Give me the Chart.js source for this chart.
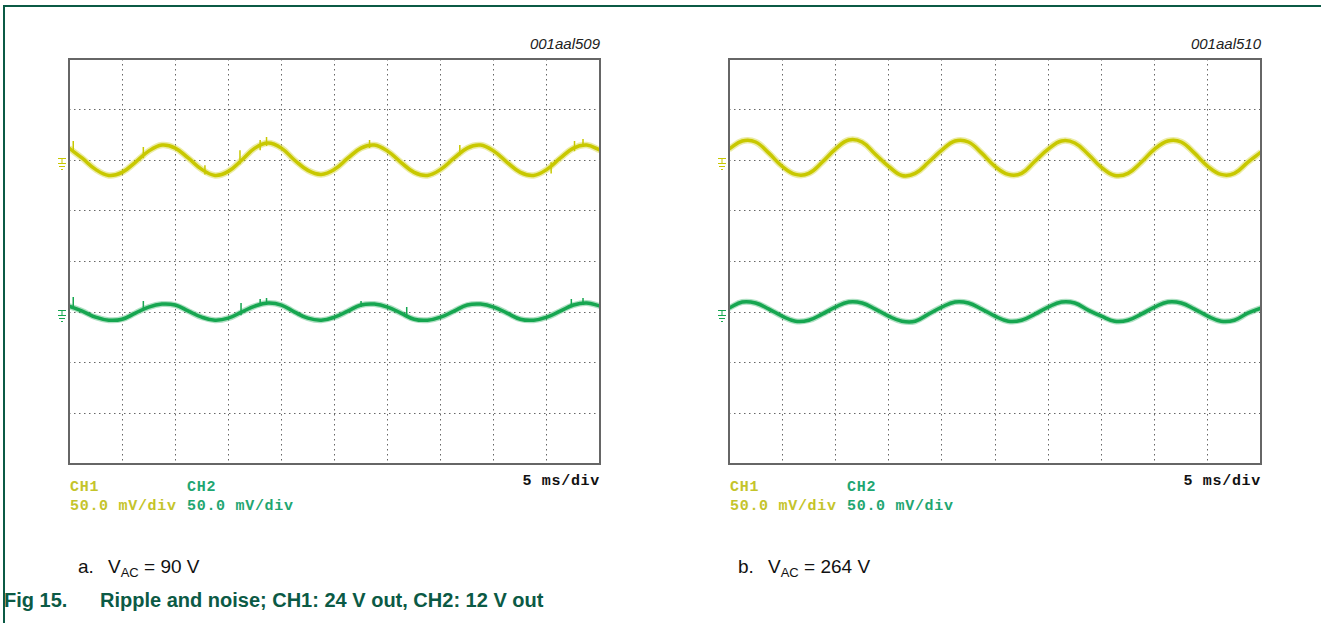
<!DOCTYPE html>
<html>
<head>
<meta charset="utf-8">
<script src="https://cdn.jsdelivr.net/npm/chart.js@4.4.1/dist/chart.umd.min.js"></script>
<style>
    body { margin: 0; background: #fff; width: 1325px; height: 623px; position: relative; overflow: hidden; font-family: Arial, "Liberation Sans", sans-serif; }
    #page-frame { position: absolute; left: 3px; top: 5px; width: 1316px; height: 700px; border-left: 2px solid #0b5a45; border-top: 2px solid #0b5a45; }
    canvas { position: absolute; }
    .code { position: absolute; width: 200px; text-align: right; font: italic 15px Arial, "Liberation Sans", sans-serif; color: #222; line-height: 15px; }
    .scope { position: absolute; font: bold 15px "Liberation Mono", "DejaVu Sans Mono", monospace; letter-spacing: 0.7px; line-height: 15px; white-space: pre; }
    .ch1 { color: #c4c42a; }
    .ch2 { color: #1fa672; }
    .sub-cap { position: absolute; font: 19px Arial, "Liberation Sans", sans-serif; color: #111; line-height: 19px; white-space: pre; }
    .sub-cap sub { font-size: 13px; vertical-align: -4px; line-height: 0; }
    .fig-cap { position: absolute; font: bold 20px Arial, "Liberation Sans", sans-serif; color: #0b5a45; line-height: 20px; white-space: pre; }
</style>
</head>
<body>
<div id="page-frame"></div>

<div class="code" style="left:400px; top:36px;">001aal509</div>
<div class="code" style="left:1061px; top:36px;">001aal510</div>

<canvas id="scopeA" width="568" height="420" style="left:40px; top:52px;"></canvas>
<canvas id="scopeB" width="569" height="420" style="left:700px; top:52px;"></canvas>

<div class="scope" style="left:480px; top:474px; width:120px; text-align:right; color:#111;">5 ms/div</div>
<div class="scope" style="left:1141px; top:474px; width:120px; text-align:right; color:#111;">5 ms/div</div>

<div class="scope ch1" style="left:70px; top:480px;">CH1</div>
<div class="scope ch2" style="left:187px; top:480px;">CH2</div>
<div class="scope ch1" style="left:70px; top:499px;">50.0 mV/div</div>
<div class="scope ch2" style="left:187px; top:499px;">50.0 mV/div</div>

<div class="scope ch1" style="left:730px; top:480px;">CH1</div>
<div class="scope ch2" style="left:847px; top:480px;">CH2</div>
<div class="scope ch1" style="left:730px; top:499px;">50.0 mV/div</div>
<div class="scope ch2" style="left:847px; top:499px;">50.0 mV/div</div>

<div class="sub-cap" style="left:78px; top:557px;">a.</div>
<div class="sub-cap" style="left:108px; top:557px;">V<sub>AC</sub> = 90 V</div>
<div class="sub-cap" style="left:738px; top:557px;">b.</div>
<div class="sub-cap" style="left:768px; top:557px;">V<sub>AC</sub> = 264 V</div>

<div class="fig-cap" style="left:4px; top:590px;">Fig 15.</div>
<div class="fig-cap" style="left:100px; top:590px;">Ripple and noise; CH1: 24 V out, CH2: 12 V out</div>

<script>
// time base: 10 div x 5 ms/div
const timeMs = [0, 1.25, 2.5, 3.75, 5, 6.25, 7.5, 8.75, 10, 11.25, 12.5, 13.75, 15, 16.25, 17.5, 18.75,
    20, 21.25, 22.5, 23.75, 25, 26.25, 27.5, 28.75, 30, 31.25, 32.5, 33.75, 35, 36.25, 37.5, 38.75,
    40, 41.25, 42.5, 43.75, 45, 46.25, 47.5, 48.75, 50];

// ripple, mV relative to each channel's ground marker
const ch1At90V = [12, 2, -9, -15, -12, -2, 9, 15, 12, 2, -9, -15, -11, 0, 12, 17,
    12, 0, -10, -14, -9, 2, 12, 15, 9, -2, -12, -15, -9, 2, 12, 15,
    9, -2, -12, -15, -9, 2, 12, 15, 10];
const ch2At90V = [6, 1, -5, -8, -7, -1, 5, 8, 7, 1, -5, -8, -6, 0, 6, 9,
    7, 0, -6, -8, -5, 1, 7, 8, 5, -1, -7, -8, -5, 1, 7, 8,
    5, -1, -7, -8, -5, 1, 7, 9, 6];
const ch1At264V = [11, 19, 18, 7, -6, -14, -13, -2, 11, 20, 18, 6, -6, -15, -13, -2,
    10, 19, 18, 7, -6, -14, -13, -1, 11, 19, 17, 6, -7, -15, -13, -2,
    11, 19, 18, 7, -6, -14, -13, -2, 8];
const ch2At264V = [4, 10, 9, 3, -4, -9, -8, -2, 5, 10, 9, 3, -4, -9, -9, -2,
    5, 10, 9, 3, -4, -9, -8, -2, 5, 10, 9, 2, -4, -9, -8, -2,
    5, 10, 9, 3, -4, -9, -8, -1, 4];

// noise spikes at 90 V: [time ms, from mV, to mV]
const ch1Spikes90V = [[0.4, 10, 19], [7.0, 2, 13], [12.8, -14, -5], [16.1, -4, 10], [18.0, 10, 20], [18.6, 14, 23],
    [28.3, 12, 20], [36.8, 5, 15], [45.4, -13, -2], [47.6, 9, 19], [48.4, 13, 21]];
const ch2Spikes90V = [[0.4, 4, 15], [7.0, 2, 11], [16.2, -3, 9], [18.0, 6, 13], [18.6, 8, 14],
    [27.5, 5, 11], [31.8, -3, 5], [47.3, 5, 13], [48.4, 7, 14]];

// channel ground positions (mV on a +/-200 mV screen)
const ch1Ground = 100;
const ch2Ground = -50;

const YELLOW = '#c8c800';
const GREEN = '#16a650';

function trace(values, ground) {
    return values.map((v, i) => ({ x: timeMs[i], y: ground + v }));
}

function spikes(list, ground) {
    const pts = [];
    list.forEach(s => {
        pts.push({ x: s[0], y: ground + s[1] });
        pts.push({ x: s[0], y: ground + s[2] });
        pts.push({ x: s[0], y: null });
    });
    return pts;
}

const scopePlugin = {
    id: 'scopeFrame',
    afterDraw: function (chart) {
        const ctx = chart.ctx;
        const a = chart.chartArea;
        const y = chart.scales.y;
        ctx.save();
        ctx.strokeStyle = '#666666';
        ctx.lineWidth = 2;
        ctx.strokeRect(a.left, a.top, a.right - a.left, a.bottom - a.top);

        // ground markers left of the screen
        [[ch1Ground, YELLOW], [ch2Ground, GREEN]].forEach(g => {
            const gy = Math.round(y.getPixelForValue(g[0])) + 0.5;
            const gx = a.left - 7;
            ctx.strokeStyle = g[1];
            ctx.lineWidth = 1;
            ctx.beginPath();
            ctx.moveTo(gx - 4, gy - 2); ctx.lineTo(gx + 4, gy - 2);
            ctx.moveTo(gx, gy - 2); ctx.lineTo(gx, gy + 3);
            ctx.moveTo(gx - 4, gy + 3); ctx.lineTo(gx + 4, gy + 3);
            ctx.moveTo(gx - 3, gy + 6); ctx.lineTo(gx + 3, gy + 6);
            ctx.moveTo(gx - 1, gy + 9); ctx.lineTo(gx + 1, gy + 9);
            ctx.stroke();
        });
        ctx.restore();
    }
};

function drawScope(canvasId, ch1, ch2, ch1Sp, ch2Sp) {
    const ctx = document.getElementById(canvasId).getContext('2d');
    const datasets = [
        // faint halo stands in for the noise band of the trace
        { data: trace(ch1, ch1Ground), borderColor: 'rgba(200,200,0,0.35)', borderWidth: 6.5, tension: 0.4 },
        { data: trace(ch2, ch2Ground), borderColor: 'rgba(22,166,80,0.35)', borderWidth: 6, tension: 0.4 },
        { data: trace(ch1, ch1Ground), borderColor: YELLOW, borderWidth: 3.5, tension: 0.4 },
        { data: trace(ch2, ch2Ground), borderColor: GREEN, borderWidth: 3.5, tension: 0.4 }
    ];
    if (ch1Sp) {
        datasets.push({ data: spikes(ch1Sp, ch1Ground), borderColor: YELLOW, borderWidth: 1.5, spanGaps: false });
        datasets.push({ data: spikes(ch2Sp, ch2Ground), borderColor: GREEN, borderWidth: 1.5, spanGaps: false });
    }
    datasets.forEach(d => { d.pointRadius = 0; d.fill = false; });

    return new Chart(ctx, {
        type: 'line',
        data: { datasets: datasets },
        options: {
            responsive: false,
            animation: false,
            devicePixelRatio: 1,
            layout: { padding: { left: 29, top: 7, right: 8, bottom: 8 } },
            scales: {
                x: {
                    type: 'linear', min: 0, max: 50,
                    ticks: { stepSize: 5, display: false },
                    grid: { color: '#666666', lineWidth: 1, drawTicks: false },
                    border: { display: false, dash: [1.5, 3.5] }
                },
                y: {
                    type: 'linear', min: -200, max: 200,
                    ticks: { stepSize: 50, display: false },
                    grid: { color: '#666666', lineWidth: 1, drawTicks: false },
                    border: { display: false, dash: [1.5, 3.5] }
                }
            },
            plugins: { legend: { display: false }, tooltip: { enabled: false } }
        },
        plugins: [scopePlugin]
    });
}

drawScope('scopeA', ch1At90V, ch2At90V, ch1Spikes90V, ch2Spikes90V);
drawScope('scopeB', ch1At264V, ch2At264V, null, null);
</script>
</body>
</html>
